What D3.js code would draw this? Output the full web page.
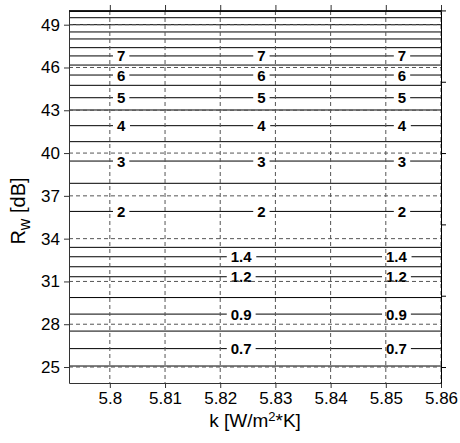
<!DOCTYPE html>
<html>
<head>
<meta charset="utf-8">
<script src="https://cdn.jsdelivr.net/npm/d3@7"></script>
<style>
  html, body { margin: 0; padding: 0; background: #fff; }
  svg { display: block; font-family: "Liberation Sans", Arial, sans-serif; }
</style>
</head>
<body>
<svg id="chart" width="460" height="443"></svg>
<script>
// Contour levels (glass thickness) and the Rw value each iso-line sits at
const levels   = [0.6, 0.7, 0.8, 0.9, 1.0, 1.2, 1.3, 1.4, 1.5, 2, 2.5, 3, 3.5, 4, 4.5, 5, 5.5, 6, 6.5, 7, 7.5, 8, 8.5, 9, 9.5, 10];
const rwValues = [25.07, 26.29, 27.52, 28.71, 29.87, 31.33, 32.03, 32.73, 33.39, 35.91, 37.88, 39.44, 40.80, 41.92, 43.02, 43.88, 44.75, 45.47, 46.17, 46.81, 47.39, 48.0, 48.49, 49.0, 49.49, 49.96];

// Inline labels: which levels are labelled and where along k
const labelsWide   = ["7", "6", "5", "4", "3", "2"];
const labelsNarrow = ["1.4", "1.2", "0.9", "0.7"];
const labelKWide   = [5.80205, 5.82746, 5.85293];
const labelKNarrow = [5.8238, 5.85193];

// Axis ticks
const xTicks = [5.8, 5.81, 5.82, 5.83, 5.84, 5.85, 5.86];
const yTicks = [25, 28, 31, 34, 37, 40, 43, 46, 49];
const yTicksRight = [25, 30, 35, 40, 45, 50];

const xDomain = [5.7926, 5.86];
const yDomain = [23.88, 49.96];

const svg = d3.select("#chart");
const plotL = 69, plotR = 441, plotT = 11, plotB = 383;

const x = d3.scaleLinear().domain(xDomain).range([plotL, plotR]);
const y = d3.scaleLinear().domain(yDomain).range([plotB, plotT]);

const rwOf = lvl => rwValues[levels.indexOf(+lvl)];

// Contour lines
svg.append("g")
  .selectAll("line")
  .data(rwValues)
  .join("line")
  .attr("x1", plotL).attr("x2", plotR)
  .attr("y1", d => y(d)).attr("y2", d => y(d))
  .attr("stroke", "#000").attr("stroke-width", 1);

// Label placements
const labelData = [];
labelsWide.forEach(l => labelKWide.forEach(k => labelData.push({ l, k })));
labelsNarrow.forEach(l => labelKNarrow.forEach(k => labelData.push({ l, k })));

const labelG = svg.append("g")
  .attr("font-size", 15).attr("font-weight", "bold");

const texts = labelG.selectAll("text")
  .data(labelData)
  .join("text")
  .attr("x", d => x(d.k))
  .attr("y", d => y(rwOf(d.l)))
  .attr("text-anchor", "middle")
  .attr("dominant-baseline", "central")
  .text(d => d.l);

// White gaps cut into the lines behind each label
const pad = 4;
texts.each(function () {
  const b = this.getBBox();
  labelG.insert("rect", "text")
    .attr("x", b.x - pad).attr("y", b.y + 2)
    .attr("width", b.width + 2 * pad).attr("height", b.height - 4)
    .attr("fill", "#fff");
});

// Dashed grid
const grid = svg.append("g")
  .attr("stroke", "#555").attr("stroke-width", 1)
  .attr("stroke-dasharray", "4,3");
grid.selectAll("line.gx").data(xTicks).join("line")
  .attr("class", "gx")
  .attr("x1", d => x(d)).attr("x2", d => x(d))
  .attr("y1", plotT).attr("y2", plotB);
grid.selectAll("line.gy").data(yTicks).join("line")
  .attr("class", "gy")
  .attr("x1", plotL).attr("x2", plotR)
  .attr("y1", d => y(d)).attr("y2", d => y(d));

labelG.selectAll("text").raise();

// Axes
const fmtX = d3.format(".2~f");
const xAxis = d3.axisBottom(x).tickValues(xTicks).tickSize(5).tickSizeOuter(0).tickPadding(4).tickFormat(fmtX);
const xTopAxis = d3.axisTop(x).tickValues(xTicks).tickSize(6).tickSizeOuter(0).tickFormat("");
const yAxis = d3.axisLeft(y).tickValues(yTicks).tickSize(5).tickSizeOuter(0).tickPadding(4);
const yRightAxis = d3.axisRight(y).tickValues(yTicksRight).tickSize(5).tickSizeOuter(0).tickFormat("");

function style(g, color) {
  g.selectAll("path").attr("stroke", color);
  g.selectAll("line").attr("stroke", color);
  g.selectAll("text").attr("fill", "#000").attr("font-size", 17)
    .attr("font-family", "'Liberation Sans', Arial, sans-serif");
}

svg.append("g").attr("transform", `translate(0,${plotB})`).call(xAxis).call(g => style(g, "#333"));
svg.append("g").attr("transform", `translate(0,${plotT})`).call(xTopAxis).call(g => style(g, "#333"));
svg.append("g").attr("transform", `translate(${plotL},0)`).call(yAxis).call(g => style(g, "#333"));
svg.append("g").attr("transform", `translate(${plotR},0)`).call(yRightAxis).call(g => style(g, "#000"));

// Top frame edge
svg.append("line")
  .attr("x1", plotL).attr("x2", plotR)
  .attr("y1", plotT).attr("y2", plotT)
  .attr("stroke", "#000").attr("stroke-width", 1.5);

// Axis titles
const xt = svg.append("text")
  .attr("x", (plotL + plotR) / 2).attr("y", 427)
  .attr("text-anchor", "middle").attr("font-size", 19);
xt.append("tspan").text("k [W/m");
xt.append("tspan").attr("dy", -6).attr("font-size", 13).text("2");
xt.append("tspan").attr("dy", 6).text("*K]");

const yt = svg.append("text")
  .attr("transform", "translate(25,211) rotate(-90)")
  .attr("text-anchor", "middle").attr("font-size", 20);
yt.append("tspan").text("R");
yt.append("tspan").attr("dy", 5).attr("font-size", 16).text("w");
yt.append("tspan").attr("dy", -5).text(" [dB]");
</script>
</body>
</html>
